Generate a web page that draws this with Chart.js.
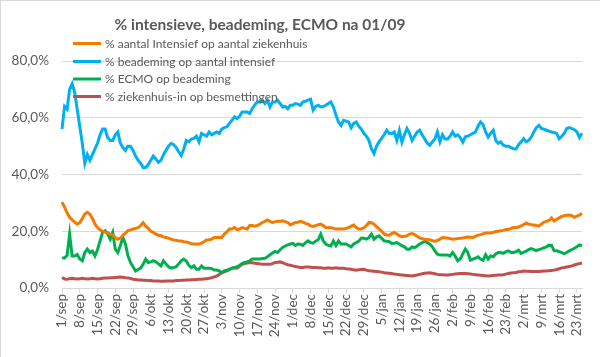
<!DOCTYPE html>
<html>
<head>
<meta charset="utf-8">
<script src="https://cdn.jsdelivr.net/npm/chart.js@4/dist/chart.umd.min.js"></script>
<style>
  html, body { margin: 0; padding: 0; background: #fff; }
  #wrap { position: relative; width: 600px; height: 357px; box-sizing: border-box; border-top: 1px solid #d9d9d9; border-left: 1px solid #d9d9d9; }
  canvas { display: block; }
</style>
</head>
<body>
<div id="wrap"><canvas id="c" width="599" height="356"></canvas></div>
<script>
const title = '% intensieve, beademing, ECMO na 01/09';
const seriesNames = [
  '% aantal Intensief op aantal ziekenhuis',
  '% beademing op aantal intensief',
  '% ECMO op beademing',
  '% ziekenhuis-in op besmettingen'
];
const seriesColors = ['#F47A00', '#00B0F0', '#00B050', '#C0504D'];
const yTicks = [0, 20, 40, 60, 80];

// daily categories from 1/sep to 25/mrt
const monthNames = ['sep','okt','nov','dec','jan','feb','mrt'];
const monthDays = [30, 31, 30, 31, 31, 28, 25];
const categories = [];
monthNames.forEach((m, i) => { for (let d = 1; d <= monthDays[i]; d++) categories.push(d + '/' + m); });

const intensief = [
30.2,28.5,26.5,24.9,24,23.2,22.5,23,24.5,26.1,26.7,26,24.5,22.5,21.3,20.5,20,19.6,19.5,19,
18.7,17.8,17.2,17.6,18.5,19.3,20.2,20.5,20.8,21,21.3,22,23,21.8,21,20,19.6,19,18.6,18.4,
18,17.8,17.6,17.2,16.9,16.8,16.6,16.6,16.3,16.2,16,15.6,15.5,15.5,15.5,15.8,16.3,16.9,17,17.2,
17.8,17.8,17.8,17.8,19,19.8,20.8,20.8,21.3,20.6,20.8,21.3,21,20.8,22,22,21.8,22,22.5,23.1,
23.5,24,23.5,23.1,23.3,23.5,23.5,23.7,23.4,23.1,22.3,22.6,23.1,23.2,23.5,23.2,22.8,22.5,21.9,21.7,
22,22.3,22.5,22,21.3,21.2,21.3,21,20.8,20.8,20.8,20.8,21,21.3,21.8,22.2,21.3,20.8,20.8,21.2,
22,23.1,23,22.5,21.6,20.8,20,19,18.7,18.6,19.2,19.6,19,18.4,18.1,18.2,18.4,19,19.2,18.8,
18.2,17.6,17.4,17.2,17.1,17,16.7,16.4,16.8,17.2,17.8,17.7,17.6,17.4,17.2,17.3,17.4,17.5,17.6,17.8,
18,17.9,17.8,18.2,18.6,18.8,19.1,19.4,19.4,19.4,19.6,19.9,20,20.2,20.3,20.6,20.6,21,21.3,21.3,
21.5,21.9,22.3,22.9,22.5,22.3,22.2,22,21.9,22.5,23.2,23.5,23.8,24.7,23.6,24.2,24.7,25.2,25.5,25.6,
25.7,25.5,24.9,25.3,25.7,26.3
];
const beademing = [
56,64,63,70,72,69,63,57,51,44,47,45,47,49,51,54,56,56,53,52,
52,54,55,51,49.5,48.5,50,50,48.5,46.5,45,44,42.5,42.5,43.5,45,46.5,45.5,44.3,45,
47,48.5,50,51,50.5,49.5,48,46.7,49,52,51.5,52.5,52.7,53.5,51.5,54.5,54,53.5,55,54,
54.5,55,54.5,56,56.5,56.8,58,59.1,60.3,59.7,60.5,62,62,62,61.5,63.2,64.5,65.6,65.5,66.2,
65,66.2,63.8,65.6,65.5,66.2,65,63.8,64,63.2,64.4,64.4,65,64.8,64.4,65.6,65.8,66.2,66.5,62.7,
64,64.4,63.8,64,64.4,65,65.6,63.8,61,58.5,57.3,59.1,58.8,58.5,56.5,58,58.5,57,56,54.5,
53.5,52,49,47.4,50,51.5,52.7,54,55.6,54.5,54.4,55,52,55.5,51.4,54,56.2,54.5,52,53.5,
55,55.6,54,52.5,51,50.3,51.5,52.5,55,51.5,54,52.5,52.5,53.5,55,53.5,54,53,51.4,53.3,
53.5,54,54.5,55,57,58.5,57.5,55,53.2,54.5,55.6,52,51,51.5,50.3,50,50,49.5,49.1,49,
50.5,51.5,52.6,51.5,52,53.2,55,56.5,57.3,56.2,56,55.6,55.3,55,54.8,54.5,52.6,53.5,54.5,56.2,
56.5,56.2,55.8,55,53,54.5
];
const ecmo = [
10.7,10.5,11.5,19,11.3,11.3,11.8,10.2,9.6,12.5,13.7,12.5,13,11.3,13.5,16.6,19.6,20.2,19,17.2,
19.6,13.7,12.5,15,17.8,15.5,11.3,9,7.5,6,6.5,7,8.4,10.2,9,9.2,9.6,9.2,8.5,7.8,
9.6,8.5,7.5,7,7.2,7.5,8.5,9.6,10.2,9.5,8,7.2,7.8,6.6,6.6,7.8,7,7,7,6.8,
6.3,6.3,6,5.4,6,6.3,6.6,7,7.2,7.5,8,8.6,9,9.2,9.6,10.2,10.2,10.2,10.2,10.4,
10.5,11,11.7,12.3,12.9,12.5,13.5,14.3,14.8,15.2,15.5,15.7,15,15.5,15.4,15,16,16.6,16,15.8,
16.5,17,19,16.6,15.5,15,14.8,16.6,15,16.6,15.5,15.5,15.5,15,14.5,15.5,16,16.5,17.6,17.5,
17.2,17.8,19,17.2,18,18.4,17.5,16.6,16.5,16.3,15.7,15.8,16,15.5,14.9,14.5,13.7,13.7,14.5,14.2,
14.8,15.5,16,16.4,16,15.5,14.5,13.1,11.9,11.6,11.6,11.6,11.6,11.3,12.5,11.3,9.6,10.2,12,13.7,
12.5,9.8,10.2,10.5,11,10.2,9.8,11.7,10.2,11.3,11,12,12.5,12.5,12.2,12.8,13.1,12.5,12.5,12.8,
13.3,12.2,12.6,13,13.5,13.9,13.5,13.2,13.5,13.8,14.2,14.5,15.1,15,13.1,13.1,12.8,12.5,12.1,12.5,
13.1,13.5,14,14.5,15.2,14.9
];
const ziekenhuis = [
3.7,3.2,3.1,3.3,3.4,3.3,3.2,3.3,3.4,3.3,3.2,3.3,3.4,3.3,3.2,3.3,3.4,3.5,3.5,3.6,
3.6,3.7,3.8,3.9,3.8,3.6,3.5,3.4,3.1,3,2.8,2.8,2.7,2.7,2.6,2.6,2.5,2.5,2.5,2.4,
2.4,2.5,2.5,2.5,2.5,2.6,2.6,2.7,2.7,2.8,2.8,2.9,2.9,3,3.1,3.1,3.2,3.3,3.4,3.6,
3.9,4.2,4.8,5.4,5.7,6,6.5,7,7.1,7,7.6,8.4,8.6,8.8,9,8.9,8.7,8.6,8.5,8.4,
8.4,8.4,8.4,8.6,9,9.1,9.2,8.9,8.5,8.2,8,7.8,7.6,7.4,7.2,7.2,7.4,7.4,7.3,7.2,
7.2,7.1,7.1,7,7,7.1,7,7,7.1,7,7,7,6.8,6.7,6.6,6.4,6.3,6.4,6.5,6.6,
6.3,6.1,6,5.9,5.8,5.7,5.6,5.4,5.3,5.2,5.1,4.9,4.8,4.7,4.6,4.5,4.4,4.3,4.2,4.4,
4.6,4.8,5,5.2,5.3,5.4,5.2,5,4.8,4.7,4.7,4.6,4.6,4.7,4.8,4.9,5,5.1,5.1,5.1,
5,4.9,4.8,4.7,4.6,4.5,4.4,4.3,4.2,4.3,4.4,4.5,4.6,4.6,4.7,4.9,5.1,5.3,5.4,5.5,
5.7,5.8,6,5.9,5.9,5.8,5.8,5.8,5.8,5.9,6,6,6.1,6.2,6.3,6.5,6.8,7.1,7.2,7.4,
7.6,7.8,8.1,8.4,8.6,8.8
];

const seriesValues = [intensief, beademing, ecmo, ziekenhuis];
const TEXT = '#595959';
const GRID = '#d9d9d9';
const FONT = 'Lato';

const overlay = {
  id: 'overlay',
  afterDraw(chart) {
    const ctx = chart.ctx;
    ctx.save();
    ctx.fillStyle = TEXT;
    ctx.font = 'bold 15.5px ' + FONT;
    ctx.textAlign = 'center';
    ctx.textBaseline = 'middle';
    ctx.fillText(title, 259, 24);
    ctx.font = '12px ' + FONT;
    ctx.textAlign = 'left';
    const rows = [42.5, 60.5, 78, 95.5];
    chart.data.datasets.forEach((ds, i) => {
      ctx.strokeStyle = ds.borderColor;
      ctx.lineWidth = 3;
      ctx.beginPath();
      ctx.moveTo(72, rows[i]);
      ctx.lineTo(100, rows[i]);
      ctx.stroke();
      ctx.fillStyle = TEXT;
      ctx.fillText(ds.label, 104, rows[i] + 0.5);
    });
    ctx.restore();
  }
};

new Chart(document.getElementById('c'), {
  type: 'line',
  data: {
    labels: categories,
    datasets: seriesNames.map((n, i) => ({
      label: n,
      data: seriesValues[i],
      borderColor: seriesColors[i],
      backgroundColor: seriesColors[i],
      borderWidth: 3,
      pointRadius: 0,
      tension: 0,
      fill: false
    }))
  },
  options: {
    responsive: false,
    animation: false,
    layout: { padding: { top: 60, right: 18, left: 0, bottom: 0 } },
    plugins: { legend: { display: false }, title: { display: false }, tooltip: { enabled: false } },
    scales: {
      x: {
        offset: false,
        afterFit(s) { s.height = 69; },
        grid: {
          drawOnChartArea: false,
          drawTicks: true,
          tickLength: 5,
          color: (c) => (c.index % 7 === 0 ? GRID : 'rgba(0,0,0,0)')
        },
        border: { color: GRID, width: 1 },
        ticks: {
          autoSkip: false,
          minRotation: 90,
          maxRotation: 90,
          padding: 1,
          color: TEXT,
          font: { family: FONT, size: 13.5 },
          callback(v, i) { return i % 7 === 0 ? categories[i] : ''; }
        }
      },
      y: {
        min: 0,
        max: 80,
        afterFit(s) { s.width = 61; },
        afterBuildTicks(s) { s.ticks = yTicks.map(v => ({ value: v })); },
        grid: { color: GRID, drawTicks: false },
        border: { display: false },
        ticks: {
          padding: 13,
          color: TEXT,
          font: { family: FONT, size: 13.5 },
          callback(v) { return v.toFixed(1).replace('.', ',') + '%'; }
        }
      }
    }
  },
  plugins: [overlay]
});
</script>
</body>
</html>
